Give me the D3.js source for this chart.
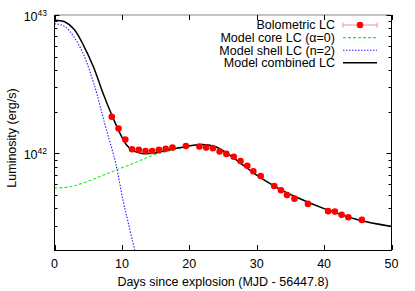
<!DOCTYPE html>
<html>
<head>
<meta charset="utf-8">
<script src="https://cdn.jsdelivr.net/npm/d3@7"></script>
<style>
  body { margin: 0; background: #fff; }
  svg text { font-family: "Liberation Sans", Arial, Helvetica, sans-serif; font-size: 12.5px; fill: #000; }
</style>
</head>
<body>
<svg id="chart" width="415" height="291"></svg>
<script>

// luminosities are in units of 1e42 erg/s
var obsDays = [8.5, 9.5, 10.5, 11.5, 12.5, 13.5, 14.5, 15.5, 16.5, 17.5, 19.5, 21.5, 22.5, 23.5, 24.5, 25.5,
               26.6, 27.6, 28.6, 29.5, 30.6, 32.6, 33.6, 34.5, 35.6, 37.6, 40.6, 41.6, 42.6, 43.6, 45.6];
var obsLum = [1.84, 1.51, 1.26, 1.07, 1.06, 1.04, 1.04, 1.06, 1.08, 1.10, 1.13, 1.12, 1.10, 1.09, 1.03, 0.99,
              0.945, 0.88, 0.814, 0.742, 0.686, 0.581, 0.541, 0.500, 0.470, 0.431, 0.382, 0.379, 0.359, 0.345, 0.330];

var coreDays = [0, 2.4, 4.8, 7.3, 9.8, 12.3, 14.7, 17, 19.5, 22, 24, 26, 28, 30, 33, 36, 40, 45, 50];
var coreLum = [0.560, 0.574, 0.624, 0.697, 0.779, 0.869, 0.972, 1.04, 1.11, 1.155, 1.11, 0.97, 0.82, 0.695,
               0.565, 0.479, 0.398, 0.331, 0.296];

var shellDays = [0, 1.4, 2.8, 4.3, 5.55, 6.3, 7.3, 8.9, 9.3, 10.15, 10.9, 11.9, 12.5];
var shellLum = [8.65, 8.34, 7.05, 5.20, 3.53, 2.68, 1.74, 0.92, 0.758, 0.461, 0.321, 0.2, 0.15];

var combDays = [0, 1.5, 2.9, 4.3, 5.8, 7.2, 8.5, 9.7, 10.7, 11.7, 13, 14.5, 17, 19.5, 22, 24, 26, 28, 30,
                33, 36, 40, 45, 50];
var combLum = [9.16, 8.93, 7.89, 6.04, 4.19, 2.72, 1.89, 1.40, 1.15, 1.04, 0.997, 1.0, 1.06, 1.12, 1.16, 1.11,
               0.97, 0.82, 0.695, 0.565, 0.479, 0.398, 0.331, 0.296];

var xTicks = [0, 10, 20, 30, 40, 50];
var yMajorTicks = [1, 10];
var yMajorLabels = ['42', '43'];
var legendLabels = ['Bolometric LC', 'Model core LC (\u03b1=0)', 'Model shell LC (n=2)', 'Model combined LC'];

var svg = d3.select('#chart');
var plot = { left: 54.5, right: 391.5, top: 15, bottom: 250 };

var x = d3.scaleLinear().domain([0, 50]).range([plot.left, plot.right]);
var y = d3.scaleLog().domain([0.2, 10]).range([plot.bottom, plot.top]);

//---------------------------------------------------------------------------------------
// CURVES
//---------------------------------------------------------------------------------------

svg.append('clipPath').attr('id', 'clip')
  .append('rect')
    .attr('x', plot.left).attr('y', plot.top)
    .attr('width', plot.right - plot.left).attr('height', plot.bottom - plot.top);

var line = d3.line()
    .x(function (d) { return x(d[0]); })
    .y(function (d) { return y(d[1]); })
    .curve(d3.curveCatmullRom.alpha(0.5));

var g = svg.append('g').attr('clip-path', 'url(#clip)');

g.append('path')
    .attr('d', line(d3.zip(coreDays, coreLum)))
    .style('fill', 'none').style('stroke', '#22ee22').style('stroke-width', 1.1)
    .style('stroke-dasharray', '3,2');

g.append('path')
    .attr('d', line(d3.zip(shellDays, shellLum)))
    .style('fill', 'none').style('stroke', '#2222ff').style('stroke-width', 1.1)
    .style('stroke-dasharray', '1.5,1.5');

g.append('path')
    .attr('d', line(d3.zip(combDays, combLum)))
    .style('fill', 'none').style('stroke', '#000').style('stroke-width', 1.5);

g.selectAll('.obs')
    .data(d3.zip(obsDays, obsLum))
  .enter().append('circle')
    .attr('class', 'obs')
    .attr('cx', function (d) { return x(d[0]); })
    .attr('cy', function (d) { return y(d[1]); })
    .attr('r', 3.3)
    .style('fill', '#ff0000');

//---------------------------------------------------------------------------------------
// BORDER AND TICKS
//---------------------------------------------------------------------------------------

var axes = svg.append('g').style('stroke', '#000').style('stroke-width', 1);

axes.append('line').attr('x1', plot.left).attr('x2', plot.right).attr('y1', plot.bottom + 0.5).attr('y2', plot.bottom + 0.5);
axes.append('line').attr('x1', plot.left).attr('x2', plot.left).attr('y1', plot.top).attr('y2', plot.bottom + 1);
axes.append('line').attr('x1', plot.right).attr('x2', plot.right).attr('y1', plot.top).attr('y2', plot.bottom + 1);
axes.append('line').attr('x1', plot.left).attr('x2', plot.right).attr('y1', plot.top).attr('y2', plot.top)
    .style('stroke', '#888');

xTicks.forEach(function (t) {
    var px = Math.round(x(t)) + 0.5;
    axes.append('line').attr('x1', px).attr('x2', px).attr('y1', plot.bottom).attr('y2', plot.bottom - 5);
    axes.append('line').attr('x1', px).attr('x2', px).attr('y1', plot.top).attr('y2', plot.top + 5);
    svg.append('text')
        .attr('x', x(t)).attr('y', 267.5)
        .style('text-anchor', 'middle')
        .text(t);
});

// log ticks: majors at decades, minors at 2..9
y.ticks().forEach(function (t) {
    var isMajor = yMajorTicks.indexOf(t) >= 0;
    var len = isMajor ? 5 : 3;
    var py = Math.round(y(t)) + 0.5;
    axes.append('line').attr('x1', plot.left).attr('x2', plot.left + len).attr('y1', py).attr('y2', py);
    axes.append('line').attr('x1', plot.right).attr('x2', plot.right - len).attr('y1', py).attr('y2', py);
});

yMajorTicks.forEach(function (t, i) {
    var label = svg.append('text')
        .attr('x', 47).attr('y', y(t) + 5.5)
        .style('text-anchor', 'end');
    label.append('tspan').text('10');
    label.append('tspan').attr('dy', -5).style('font-size', '8.5px').text(yMajorLabels[i]);
});

svg.append('text')
    .attr('x', 223).attr('y', 285.5)
    .style('text-anchor', 'middle')
    .text('Days since explosion (MJD - 56447.8)');

svg.append('text')
    .attr('transform', 'translate(16,138) rotate(-90)')
    .style('text-anchor', 'middle')
    .text('Luminosity (erg/s)');

//---------------------------------------------------------------------------------------
// LEGEND
//---------------------------------------------------------------------------------------

var legendX = 335;
var sampleX1 = 343;
var sampleX2 = 377;
var rowY = function (i) { return 25 + i * 12.6; };

legendLabels.forEach(function (lbl, i) {
    svg.append('text')
        .attr('x', legendX).attr('y', rowY(i) + 4.4)
        .style('text-anchor', 'end')
        .text(lbl);
});

var lg = svg.append('g');
lg.append('line')
    .attr('x1', sampleX1).attr('x2', sampleX2).attr('y1', rowY(0)).attr('y2', rowY(0))
    .style('stroke', '#f29090').style('stroke-width', 1);
[sampleX1, sampleX2].forEach(function (cx) {
    lg.append('line')
        .attr('x1', cx).attr('x2', cx).attr('y1', rowY(0) - 2.5).attr('y2', rowY(0) + 2.5)
        .style('stroke', '#f29090').style('stroke-width', 1);
});
lg.append('circle')
    .attr('cx', (sampleX1 + sampleX2) / 2).attr('cy', rowY(0)).attr('r', 3.3)
    .style('fill', '#ff0000');

lg.append('line')
    .attr('x1', sampleX1).attr('x2', sampleX2).attr('y1', rowY(1)).attr('y2', rowY(1))
    .style('stroke', '#22ee22').style('stroke-width', 1.1).style('stroke-dasharray', '3,2');
lg.append('line')
    .attr('x1', sampleX1).attr('x2', sampleX2).attr('y1', rowY(2)).attr('y2', rowY(2))
    .style('stroke', '#2222ff').style('stroke-width', 1.1).style('stroke-dasharray', '1.5,1.5');
lg.append('line')
    .attr('x1', sampleX1).attr('x2', sampleX2).attr('y1', rowY(3)).attr('y2', rowY(3))
    .style('stroke', '#000').style('stroke-width', 1.5);

</script>
</body>
</html>
